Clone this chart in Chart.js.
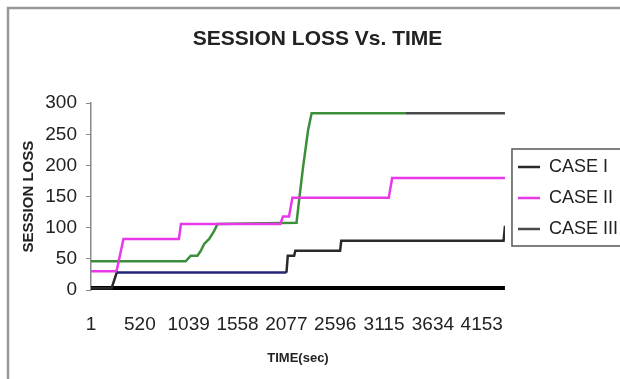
<!DOCTYPE html>
<html>
<head>
<meta charset="utf-8">
<script src="https://cdn.jsdelivr.net/npm/chart.js@4"></script>
<style>
  body { margin: 0; background: #fff; }
</style>
</head>
<body>
<canvas id="myChart" width="620" height="379"></canvas>
<script>
// marcas de los ejes
let timeTicks = [1, 520, 1039, 1558, 2077, 2596, 3115, 3634, 4153];
let lossTicks = [0, 50, 100, 150, 200, 250, 300];

// CASE I (tiempo en seg, perdida de sesion)
let case1Time = [1, 220, 274, 2078, 2092, 2160, 2172, 2648, 2660, 4385, 4400];
let case1Loss = [3, 3, 28, 28, 55, 55, 63, 63, 79, 79, 103];

// CASE II
let case2Time = [1, 272, 346, 935, 957, 2013, 2041, 2105, 2141, 3165, 3201, 4400];
let case2Loss = [30, 30, 82, 82, 106, 106, 118, 118, 148, 148, 180, 180];

// CASE III
let case3Time = [1, 1007, 1061, 1132, 1168, 1203, 1257, 1310, 1346, 2185, 2212, 2255, 2308, 2345, 3340, 4400];
let case3Loss = [46, 46, 55, 55, 63, 74, 82, 95, 106, 108, 144, 198, 257, 284, 284, 284];

// linea gruesa en cero
let baseTime = [1, 4400];
let baseLoss = [0, 0];

let font = "'Liberation Sans', Arial, sans-serif";

function toPoints(t, v) {
    return t.map((x, i) => ({ x: x, y: v[i] }));
}

// marco gris del grafico y caja de la leyenda
const frame = {
    id: 'frame',
    afterLayout(chart) {
        // subir un poco la leyenda
        chart.legend.top -= 5;
        chart.legend.bottom -= 5;
    },
    beforeDraw(chart) {
        const ctx = chart.ctx;
        ctx.save();
        ctx.fillStyle = '#fff';
        ctx.fillRect(0, 0, chart.width, chart.height);
        ctx.strokeStyle = '#999';
        ctx.lineWidth = 2.5;
        ctx.beginPath();
        ctx.moveTo(8, chart.height);
        ctx.lineTo(8, 8);
        ctx.lineTo(chart.width, 8);
        ctx.stroke();
        ctx.restore();
    },
    afterDraw(chart) {
        const boxes = chart.legend.legendHitBoxes;
        if (!boxes || !boxes.length) return;
        const first = boxes[0];
        const last = boxes[boxes.length - 1];
        const ctx = chart.ctx;
        ctx.save();
        ctx.strokeStyle = '#555';
        ctx.lineWidth = 1.5;
        ctx.strokeRect(first.left - 6, first.top - 9, chart.width + 10 - first.left, last.top + last.height - first.top + 17);
        ctx.restore();
    }
};

new Chart(document.getElementById('myChart'), {
    type: 'line',
    data: {
        datasets: [
            {
                label: 'CASE I',
                data: toPoints(case1Time, case1Loss),
                borderColor: '#2a2a2a',
                borderWidth: 2.5,
                segment: {
                    borderColor: c => (c.p0.parsed.y > 20 && c.p0.parsed.y < 35 && c.p1.parsed.y < 35) ? '#24247a' : undefined
                }
            },
            {
                label: 'CASE II',
                data: toPoints(case2Time, case2Loss),
                borderColor: '#e838e8',
                borderWidth: 2.5
            },
            {
                label: 'CASE III',
                data: toPoints(case3Time, case3Loss),
                borderColor: '#4a4a4a',
                borderWidth: 2.5,
                segment: {
                    borderColor: c => c.p1.parsed.x <= 3340 ? '#3b8f3b' : undefined
                }
            },
            {
                label: '',
                data: toPoints(baseTime, baseLoss),
                borderColor: '#000',
                borderWidth: 8
            }
        ]
    },
    options: {
        responsive: false,
        animation: false,
        elements: { point: { radius: 0 }, line: { tension: 0 } },
        layout: { padding: { left: 7, top: 27, right: -8, bottom: 0 } },
        plugins: {
            title: {
                display: true,
                text: 'SESSION LOSS Vs. TIME',
                color: '#222',
                font: { family: font, size: 21, weight: 'bold' },
                padding: { top: 0, bottom: 51 }
            },
            legend: {
                position: 'right',
                labels: {
                    filter: item => item.text !== '',
                    usePointStyle: true,
                    pointStyle: 'line',
                    pointStyleWidth: 22,
                    padding: 13,
                    color: '#222',
                    font: { family: font, size: 18 }
                }
            },
            tooltip: { enabled: false }
        },
        scales: {
            x: {
                type: 'linear',
                min: 1,
                max: 4400,
                afterBuildTicks: s => { s.ticks = timeTicks.map(v => ({ value: v })); },
                afterFit: s => { s.height = 89; },
                grid: { display: false, drawTicks: false },
                border: { display: false },
                ticks: {
                    autoSkip: false,
                    maxRotation: 0,
                    padding: 23,
                    color: '#222',
                    font: { family: font, size: 19 },
                    callback: v => String(v)
                },
                title: {
                    display: true,
                    text: 'TIME(sec)',
                    color: '#222',
                    font: { family: font, size: 13, weight: 'bold' },
                    padding: { top: 0, bottom: 13 }
                }
            },
            y: {
                min: 0,
                max: 300,
                afterBuildTicks: s => { s.ticks = lossTicks.map(v => ({ value: v })); },
                afterFit: s => { s.width = 84; },
                grid: { drawOnChartArea: false, tickLength: 5, color: '#888' },
                border: { color: '#888', width: 1.5 },
                ticks: {
                    padding: 9,
                    color: '#222',
                    font: { family: font, size: 19 },
                    callback: v => String(v)
                },
                title: {
                    display: true,
                    text: 'SESSION LOSS',
                    color: '#222',
                    font: { family: font, size: 15, weight: 'bold' },
                    padding: { top: 13, bottom: 0 }
                }
            }
        }
    },
    plugins: [frame]
});
</script>
</body>
</html>
